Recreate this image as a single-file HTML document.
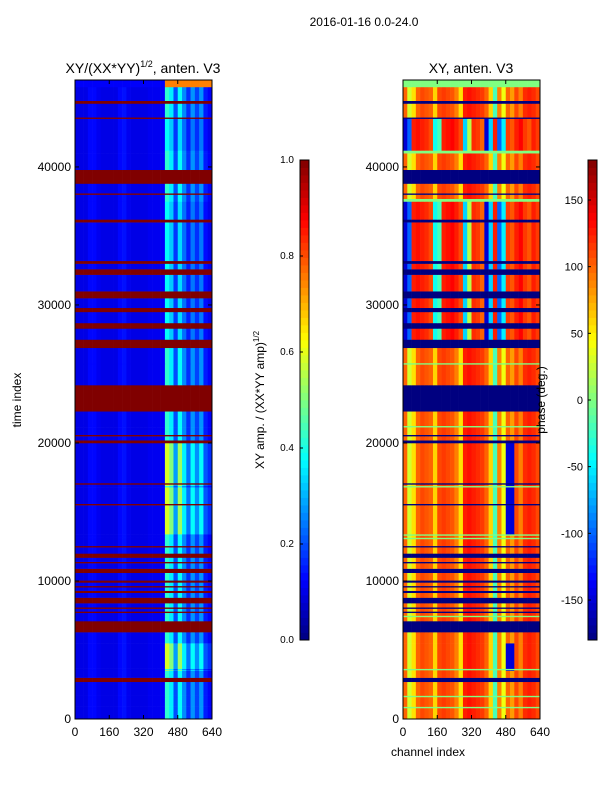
<!DOCTYPE html>
<html><head><meta charset="utf-8"><style>
body{margin:0;background:#fff;}
svg{display:block;font-family:"Liberation Sans",sans-serif;}
</style></head><body>
<svg id="fig" width="600" height="800" viewBox="0 0 600 800" xmlns="http://www.w3.org/2000/svg">
<rect width="600" height="800" fill="#fff"/>
<text x="364" y="26" font-size="12" text-anchor="middle">2016-01-16 0.0-24.0</text>
<text x="143" y="73" font-size="14" text-anchor="middle">XY/(XX*YY)<tspan font-size="9" dy="-6">1/2</tspan><tspan dy="6">, anten. V3</tspan></text>
<text x="471" y="73" font-size="14" text-anchor="middle">XY, anten. V3</text>
<text x="428" y="756" font-size="12" text-anchor="middle">channel index</text>
<text transform="translate(21,400) rotate(-90)" font-size="12" text-anchor="middle">time index</text>
<text transform="translate(264,400) rotate(-90)" font-size="12" text-anchor="middle">XY amp. / (XX*YY amp)<tspan font-size="8" dy="-5">1/2</tspan></text>
<g id="left-heat"></g>
<g id="right-heat"></g>
<text transform="translate(545,400) rotate(-90)" font-size="12" text-anchor="middle">phase (deg.)</text>
<g id="cbars"></g>
<g id="axes"></g>
</svg>
<script>
const timeMax = 46300;
const chanMax = 640;
const xTicks = [0,160,320,480,640];
const yTicks = [0,10000,20000,30000,40000];
const ampTicks = ["0.0","0.2","0.4","0.6","0.8","1.0"];
const phaseTicks = [-150,-100,-50,0,50,100,150];
// channel bins of 20 channels
const ampProfile = [0.10,0.10,0.10,0.13,0.13,0.11,0.10,0.10,0.10,0.10,0.13,0.14,0.11,0.10,0.10,0.10,0.10,0.11,0.11,0.11,0.12,0.42,0.36,0.20,0.38,0.26,0.17,0.27,0.19,0.27,0.15,0.12];
const phaseProfile = [100,30,55,100,110,105,100,60,110,115,110,105,90,55,125,130,125,120,115,100,60,-20,90,40,100,80,110,90,120,125,120,110];
const phaseUpper = [-150,-100,125,130,125,120,110,-40,-20,125,130,135,125,110,-60,20,120,115,100,-150,-60,125,-100,-50,115,105,125,135,115,105,125,115];
// time segments: start of each segment and its kind (F flag, N normal, B bright, U upper, G green line, T top)
const segStart = [0,800,900,1600,1700,2700,3000,3500,3550,3650,5500,6300,7100,7400,7500,7700,7800,8000,8100,8400,8800,9150,9300,9550,9650,9900,10050,10600,10900,11300,11400,11700,12000,12450,12550,13050,13150,13300,13400,15500,15600,16800,16900,17000,17100,20000,20200,20500,20600,21150,21250,22300,24200,25700,25800,26900,27500,28300,28700,29500,29800,30500,31000,32200,32600,33000,33200,36000,36200,37500,37700,38000,38100,38800,39800,41000,41200,43500,43600,44600,44800,45800];
const segKind  = ["N","G","N","G","N","F","N","B","G","B","N","F","N","G","N","F","N","F","N","F","N","F","N","F","N","F","N","F","N","F","N","F","N","F","N","G","N","G","B","F","B","G","B","F","B","F","N","F","N","G","N","F","N","G","N","F","U","F","U","F","U","F","U","F","U","F","U","F","U","G","N","F","N","F","N","G","U","F","N","F","N","T"];

function jet(v){v=Math.max(0,Math.min(1,v));const c=x=>Math.round(255*Math.max(0,Math.min(1,1.5-Math.abs(x))));return `rgb(${c(4*v-3)},${c(4*v-2)},${c(4*v-1)})`;}
const NS='http://www.w3.org/2000/svg';
function mk(tag,attrs,parent){const e=document.createElementNS(NS,tag);for(const k in attrs)e.setAttribute(k,attrs[k]);parent.appendChild(e);return e;}
const panels=[{x0:75,x1:212,id:'left-heat'},{x0:403,x1:540,id:'right-heat'}];
const yTop=80,yBot=719;
const yScale=t=>yBot-(t/timeMax)*(yBot-yTop);
function ampVal(kind,b){
  if(kind==='F')return 1;
  if(kind==='T')return b>=21?0.75:0.12;
  if(kind==='B')return b>=21?Math.min(1,ampProfile[b]*1.4):ampProfile[b];
  if(kind==='U')return b>=21?ampProfile[b]*0.9:ampProfile[b];
  return ampProfile[b];
}
function phaseVal(kind,b){
  if(kind==='F')return -180;
  if(kind==='T'||kind==='G')return 0;
  if(kind==='U')return phaseUpper[b];
  if(kind==='B'&&(b===24||b===25))return -150;
  return phaseProfile[b];
}
panels.forEach((p,pi)=>{
  const g=document.getElementById(p.id);
  const xs=c=>p.x0+(c/chanMax)*(p.x1-p.x0);
  for(let s=0;s<segStart.length;s++){
    const tEnd=s+1<segStart.length?segStart[s+1]:timeMax;
    const y1=yScale(tEnd),y0=yScale(segStart[s]);
    for(let b=0;b<ampProfile.length;b++){
      const v=pi===0?ampVal(segKind[s],b):(phaseVal(segKind[s],b)+180)/360;
      const r=mk('rect',{x:xs(b*20),y:y1,width:xs(b*20+20)-xs(b*20)+0.3,height:y0-y1+0.3,fill:jet(v)},g);
      
      
    }
  }
});
const ax=document.getElementById('axes');
panels.forEach((p,pi)=>{
  const f=mk('rect',{x:p.x0,y:yTop,width:p.x1-p.x0,height:yBot-yTop,fill:'none',stroke:'#000','stroke-width':1},ax);
  
  
  const xs=c=>p.x0+(c/chanMax)*(p.x1-p.x0);
  xTicks.forEach(t=>{
    mk('line',{x1:xs(t),x2:xs(t),y1:yBot,y2:yBot-4,stroke:'#000'},ax);
    mk('line',{x1:xs(t),x2:xs(t),y1:yTop,y2:yTop+4,stroke:'#000'},ax);
    const tx=mk('text',{x:xs(t),y:yBot+17,'font-size':12,'text-anchor':'middle'},ax);
    tx.textContent=t;
    
    
  });
  yTicks.forEach(t=>{
    mk('line',{x1:p.x0,x2:p.x0+4,y1:yScale(t),y2:yScale(t),stroke:'#000'},ax);
    mk('line',{x1:p.x1,x2:p.x1-4,y1:yScale(t),y2:yScale(t),stroke:'#000'},ax);
    const tx=mk('text',{x:p.x0-4,y:yScale(t)+4,'font-size':12,'text-anchor':'end'},ax);
    tx.textContent=t;
    
    
  });
});
const cb=document.getElementById('cbars');
const cbTop=160,cbBot=640;
[{x:300,id:0},{x:588,id:1}].forEach(c=>{
  const n=64;
  for(let i=0;i<n;i++){
    const y=cbBot-(i+1)*(cbBot-cbTop)/n;
    const r=mk('rect',{x:c.x,y:y,width:9,height:(cbBot-cbTop)/n+0.4,fill:jet((i+0.5)/n)},cb);
    
    
  }
  mk('rect',{x:c.x,y:cbTop,width:9,height:cbBot-cbTop,fill:'none',stroke:'#000'},cb);
  if(c.id===0){
    ampTicks.forEach((t,i)=>{
      const y=cbBot-i/(ampTicks.length-1)*(cbBot-cbTop);
      mk('line',{x1:c.x,x2:c.x+3,y1:y,y2:y,stroke:'#000'},cb);
      const tx=mk('text',{x:c.x-6,y:y+3,'font-size':10,'text-anchor':'end'},cb);
      tx.textContent=t;
      
      
    });
  } else {
    phaseTicks.forEach(t=>{
      const y=cbBot-(t+180)/360*(cbBot-cbTop);
      mk('line',{x1:c.x,x2:c.x+3,y1:y,y2:y,stroke:'#000'},cb);
      const tx=mk('text',{x:c.x-5,y:y+4,'font-size':11,'text-anchor':'end'},cb);
      tx.textContent=t;
      
      
    });
  }
});
</script>
</body></html>
